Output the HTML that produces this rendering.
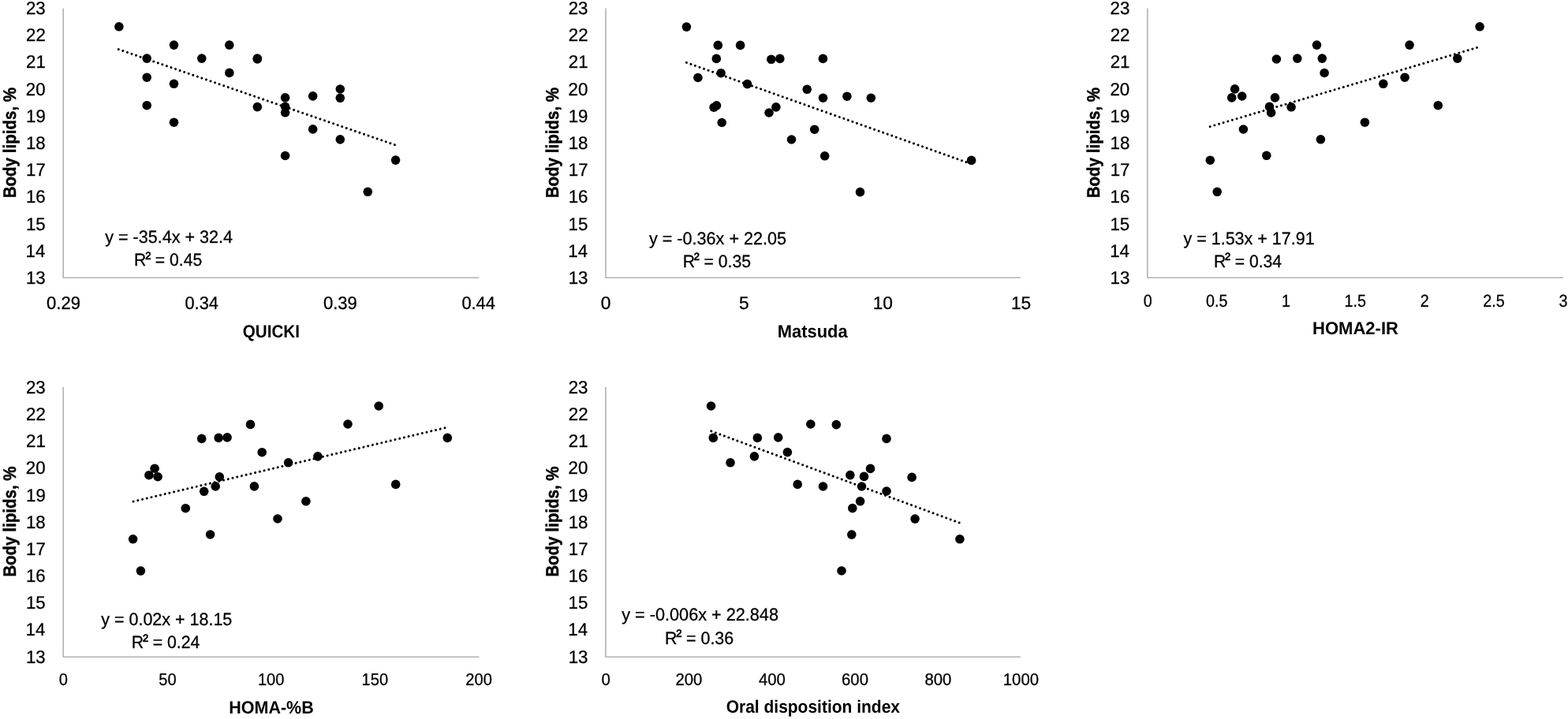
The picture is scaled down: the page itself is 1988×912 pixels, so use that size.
<!DOCTYPE html>
<html lang="en"><head><meta charset="utf-8"><title>Body lipids vs insulin sensitivity indices</title>
<style>
html,body{margin:0;padding:0;background:#fff;}
body{width:1988px;height:912px;overflow:hidden;}
svg{display:block;text-rendering:geometricPrecision;font-family:"Liberation Sans",sans-serif;fill:#000;}
</style></head><body>
<svg width="1988" height="912" viewBox="0 0 1988 912">
<rect width="1988" height="912" fill="#fff"/>
<path d="M80.20 10.50V352.20H607.30" fill="none" stroke="#b2b2b2" stroke-width="1.6" stroke-linejoin="round"/>
<text transform="translate(32.95,359.85) scale(0.9800,1)" font-size="22.70" stroke="#000" stroke-width="0.3">13</text>
<text transform="translate(32.62,325.68) scale(0.9800,1)" font-size="22.70" stroke="#000" stroke-width="0.3">14</text>
<text transform="translate(32.90,291.51) scale(0.9800,1)" font-size="22.70" stroke="#000" stroke-width="0.3">15</text>
<text transform="translate(32.95,257.34) scale(0.9800,1)" font-size="22.70" stroke="#000" stroke-width="0.3">16</text>
<text transform="translate(33.12,223.17) scale(0.9800,1)" font-size="22.70" stroke="#000" stroke-width="0.3">17</text>
<text transform="translate(32.95,189.00) scale(0.9800,1)" font-size="22.70" stroke="#000" stroke-width="0.3">18</text>
<text transform="translate(33.01,154.83) scale(0.9800,1)" font-size="22.70" stroke="#000" stroke-width="0.3">19</text>
<text transform="translate(32.84,120.66) scale(0.9800,1)" font-size="22.70" stroke="#000" stroke-width="0.3">20</text>
<text transform="translate(33.06,86.49) scale(0.9800,1)" font-size="22.70" stroke="#000" stroke-width="0.3">21</text>
<text transform="translate(33.12,52.32) scale(0.9800,1)" font-size="22.70" stroke="#000" stroke-width="0.3">22</text>
<text transform="translate(32.95,18.15) scale(0.9800,1)" font-size="22.70" stroke="#000" stroke-width="0.3">23</text>
<text transform="translate(19.80,251.34) rotate(-90) scale(0.9099,1)" font-size="22.60" font-weight="bold" stroke="#000" stroke-width="0.5">Body lipids, %</text>
<path d="M150.3 62.6L501.4 184.0" fill="none" stroke="#000" stroke-width="3.0" stroke-linecap="round" stroke-dasharray="0.01 5.87"/>
<g fill="#000"><circle cx="150.9" cy="33.8" r="5.8"/><circle cx="220.5" cy="57.1" r="5.8"/><circle cx="290.8" cy="57.1" r="5.8"/><circle cx="186.2" cy="74.1" r="5.8"/><circle cx="255.8" cy="74.1" r="5.8"/><circle cx="326.3" cy="74.1" r="5.8"/><circle cx="326.3" cy="75.0" r="5.8"/><circle cx="186.2" cy="98.2" r="5.8"/><circle cx="290.8" cy="92.4" r="5.8"/><circle cx="220.5" cy="106.3" r="5.8"/><circle cx="186.2" cy="133.7" r="5.8"/><circle cx="326.3" cy="135.6" r="5.8"/><circle cx="220.5" cy="155.2" r="5.8"/><circle cx="361.6" cy="123.9" r="5.8"/><circle cx="361.6" cy="135.3" r="5.8"/><circle cx="361.6" cy="142.8" r="5.8"/><circle cx="361.6" cy="197.5" r="5.8"/><circle cx="396.7" cy="121.9" r="5.8"/><circle cx="396.7" cy="163.9" r="5.8"/><circle cx="431.3" cy="113.0" r="5.8"/><circle cx="431.3" cy="124.3" r="5.8"/><circle cx="431.3" cy="176.9" r="5.8"/><circle cx="466.3" cy="243.3" r="5.8"/><circle cx="501.6" cy="203.1" r="5.8"/></g>
<text transform="translate(59.02,391.85) scale(0.9711,1)" font-size="22.70" stroke="#000" stroke-width="0.3">0.29</text>
<text transform="translate(234.48,391.85) scale(0.9620,1)" font-size="22.70" stroke="#000" stroke-width="0.3">0.34</text>
<text transform="translate(409.92,391.85) scale(0.9711,1)" font-size="22.70" stroke="#000" stroke-width="0.3">0.39</text>
<text transform="translate(585.38,391.85) scale(0.9620,1)" font-size="22.70" stroke="#000" stroke-width="0.3">0.44</text>
<text transform="translate(307.73,427.65) scale(0.9123,1)" font-size="22.60" font-weight="bold" stroke="#000" stroke-width="0.0">QUICKI</text>
<text transform="translate(133.25,308.30) scale(0.9714,1)" font-size="22.20" stroke="#000" stroke-width="0.3">y = -35.4x + 32.4</text>
<text transform="translate(170.05,337.30) scale(0.9530,1)" font-size="22.20" stroke="#000" stroke-width="0.3">R<tspan dx="-1.2" dy="-2.8" stroke-width="0.5">²</tspan><tspan dx="-0.3" dy="2.8"> = 0.45</tspan></text>
<path d="M767.90 10.50V352.20H1293.80" fill="none" stroke="#b2b2b2" stroke-width="1.6" stroke-linejoin="round"/>
<text transform="translate(720.65,359.85) scale(0.9800,1)" font-size="22.70" stroke="#000" stroke-width="0.3">13</text>
<text transform="translate(720.32,325.68) scale(0.9800,1)" font-size="22.70" stroke="#000" stroke-width="0.3">14</text>
<text transform="translate(720.60,291.51) scale(0.9800,1)" font-size="22.70" stroke="#000" stroke-width="0.3">15</text>
<text transform="translate(720.65,257.34) scale(0.9800,1)" font-size="22.70" stroke="#000" stroke-width="0.3">16</text>
<text transform="translate(720.82,223.17) scale(0.9800,1)" font-size="22.70" stroke="#000" stroke-width="0.3">17</text>
<text transform="translate(720.65,189.00) scale(0.9800,1)" font-size="22.70" stroke="#000" stroke-width="0.3">18</text>
<text transform="translate(720.71,154.83) scale(0.9800,1)" font-size="22.70" stroke="#000" stroke-width="0.3">19</text>
<text transform="translate(720.54,120.66) scale(0.9800,1)" font-size="22.70" stroke="#000" stroke-width="0.3">20</text>
<text transform="translate(720.76,86.49) scale(0.9800,1)" font-size="22.70" stroke="#000" stroke-width="0.3">21</text>
<text transform="translate(720.82,52.32) scale(0.9800,1)" font-size="22.70" stroke="#000" stroke-width="0.3">22</text>
<text transform="translate(720.65,18.15) scale(0.9800,1)" font-size="22.70" stroke="#000" stroke-width="0.3">23</text>
<text transform="translate(707.50,251.34) rotate(-90) scale(0.9099,1)" font-size="22.60" font-weight="bold" stroke="#000" stroke-width="0.5">Body lipids, %</text>
<path d="M870.4 79.4L1230.4 207.6" fill="none" stroke="#000" stroke-width="3.0" stroke-linecap="round" stroke-dasharray="0.01 5.87"/>
<g fill="#000"><circle cx="870.4" cy="34.1" r="5.8"/><circle cx="910.3" cy="57.4" r="5.8"/><circle cx="938.6" cy="57.4" r="5.8"/><circle cx="908.3" cy="74.4" r="5.8"/><circle cx="977.8" cy="75.3" r="5.8"/><circle cx="988.8" cy="74.4" r="5.8"/><circle cx="1043.4" cy="74.4" r="5.8"/><circle cx="914.1" cy="92.7" r="5.8"/><circle cx="884.9" cy="98.5" r="5.8"/><circle cx="947.5" cy="106.6" r="5.8"/><circle cx="1023.2" cy="113.3" r="5.8"/><circle cx="1043.5" cy="124.2" r="5.8"/><circle cx="1073.9" cy="122.2" r="5.8"/><circle cx="908.5" cy="133.8" r="5.8"/><circle cx="905.1" cy="136.2" r="5.8"/><circle cx="983.9" cy="135.9" r="5.8"/><circle cx="975.0" cy="143.0" r="5.8"/><circle cx="915.2" cy="155.5" r="5.8"/><circle cx="1032.7" cy="164.2" r="5.8"/><circle cx="1003.5" cy="177.0" r="5.8"/><circle cx="1104.3" cy="124.2" r="5.8"/><circle cx="1045.7" cy="197.8" r="5.8"/><circle cx="1090.5" cy="243.6" r="5.8"/><circle cx="1231.6" cy="203.4" r="5.8"/></g>
<text transform="translate(761.67,391.85) scale(1.0000,1)" font-size="22.70" stroke="#000" stroke-width="0.3">0</text>
<text transform="translate(937.10,391.85) scale(1.0000,1)" font-size="22.70" stroke="#000" stroke-width="0.3">5</text>
<text transform="translate(1106.63,391.85) scale(1.0000,1)" font-size="22.70" stroke="#000" stroke-width="0.3">10</text>
<text transform="translate(1282.00,391.85) scale(1.0000,1)" font-size="22.70" stroke="#000" stroke-width="0.3">15</text>
<text transform="translate(985.77,427.80) scale(0.9702,1)" font-size="22.60" font-weight="bold" stroke="#000" stroke-width="0.0">Matsuda</text>
<text transform="translate(822.95,309.70) scale(0.9737,1)" font-size="22.20" stroke="#000" stroke-width="0.3">y = -0.36x + 22.05</text>
<text transform="translate(865.65,339.00) scale(0.9564,1)" font-size="22.20" stroke="#000" stroke-width="0.3">R<tspan dx="-1.2" dy="-2.8" stroke-width="0.5">²</tspan><tspan dx="-0.3" dy="2.8"> = 0.35</tspan></text>
<path d="M1454.80 10.50V352.20H1981.70" fill="none" stroke="#b2b2b2" stroke-width="1.6" stroke-linejoin="round"/>
<text transform="translate(1407.55,359.85) scale(0.9800,1)" font-size="22.70" stroke="#000" stroke-width="0.3">13</text>
<text transform="translate(1407.22,325.68) scale(0.9800,1)" font-size="22.70" stroke="#000" stroke-width="0.3">14</text>
<text transform="translate(1407.50,291.51) scale(0.9800,1)" font-size="22.70" stroke="#000" stroke-width="0.3">15</text>
<text transform="translate(1407.55,257.34) scale(0.9800,1)" font-size="22.70" stroke="#000" stroke-width="0.3">16</text>
<text transform="translate(1407.72,223.17) scale(0.9800,1)" font-size="22.70" stroke="#000" stroke-width="0.3">17</text>
<text transform="translate(1407.55,189.00) scale(0.9800,1)" font-size="22.70" stroke="#000" stroke-width="0.3">18</text>
<text transform="translate(1407.61,154.83) scale(0.9800,1)" font-size="22.70" stroke="#000" stroke-width="0.3">19</text>
<text transform="translate(1407.44,120.66) scale(0.9800,1)" font-size="22.70" stroke="#000" stroke-width="0.3">20</text>
<text transform="translate(1407.66,86.49) scale(0.9800,1)" font-size="22.70" stroke="#000" stroke-width="0.3">21</text>
<text transform="translate(1407.72,52.32) scale(0.9800,1)" font-size="22.70" stroke="#000" stroke-width="0.3">22</text>
<text transform="translate(1407.55,18.15) scale(0.9800,1)" font-size="22.70" stroke="#000" stroke-width="0.3">23</text>
<text transform="translate(1394.40,251.34) rotate(-90) scale(0.9099,1)" font-size="22.60" font-weight="bold" stroke="#000" stroke-width="0.5">Body lipids, %</text>
<path d="M1534.2 160.6L1872.6 60.4" fill="none" stroke="#000" stroke-width="3.0" stroke-linecap="round" stroke-dasharray="0.01 5.87"/>
<g fill="#000"><circle cx="1669.5" cy="57.1" r="5.8"/><circle cx="1618.4" cy="75.0" r="5.8"/><circle cx="1644.8" cy="74.1" r="5.8"/><circle cx="1676.3" cy="74.1" r="5.8"/><circle cx="1679.1" cy="92.5" r="5.8"/><circle cx="1565.6" cy="112.9" r="5.8"/><circle cx="1561.7" cy="123.9" r="5.8"/><circle cx="1574.7" cy="122.0" r="5.8"/><circle cx="1616.5" cy="123.9" r="5.8"/><circle cx="1609.5" cy="135.4" r="5.8"/><circle cx="1637.1" cy="135.8" r="5.8"/><circle cx="1611.6" cy="142.9" r="5.8"/><circle cx="1576.4" cy="164.0" r="5.8"/><circle cx="1730.4" cy="155.2" r="5.8"/><circle cx="1674.4" cy="176.8" r="5.8"/><circle cx="1876.1" cy="33.8" r="5.8"/><circle cx="1787.1" cy="57.1" r="5.8"/><circle cx="1847.8" cy="74.1" r="5.8"/><circle cx="1781.1" cy="98.2" r="5.8"/><circle cx="1753.8" cy="106.3" r="5.8"/><circle cx="1823.3" cy="133.7" r="5.8"/><circle cx="1534.3" cy="203.2" r="5.8"/><circle cx="1605.8" cy="197.3" r="5.8"/><circle cx="1543.2" cy="243.3" r="5.8"/></g>
<text transform="translate(1449.71,388.80) scale(0.9000,1)" font-size="21.90" stroke="#000" stroke-width="0.3">0</text>
<text transform="translate(1529.10,388.80) scale(0.9000,1)" font-size="21.90" stroke="#000" stroke-width="0.3">0.5</text>
<text transform="translate(1624.96,388.80) scale(0.9000,1)" font-size="21.90" stroke="#000" stroke-width="0.3">1</text>
<text transform="translate(1704.46,388.80) scale(0.9000,1)" font-size="21.90" stroke="#000" stroke-width="0.3">1.5</text>
<text transform="translate(1800.83,388.80) scale(0.9000,1)" font-size="21.90" stroke="#000" stroke-width="0.3">2</text>
<text transform="translate(1880.30,388.80) scale(0.9000,1)" font-size="21.90" stroke="#000" stroke-width="0.3">2.5</text>
<text transform="translate(1976.58,388.80) scale(0.9000,1)" font-size="21.90" stroke="#000" stroke-width="0.3">3</text>
<text transform="translate(1663.96,424.00) scale(0.9761,1)" font-size="22.60" font-weight="bold" stroke="#000" stroke-width="0.0">HOMA2-IR</text>
<text transform="translate(1500.45,309.70) scale(0.9693,1)" font-size="22.20" stroke="#000" stroke-width="0.3">y = 1.53x + 17.91</text>
<text transform="translate(1538.95,339.00) scale(0.9534,1)" font-size="22.20" stroke="#000" stroke-width="0.3">R<tspan dx="-1.2" dy="-2.8" stroke-width="0.5">²</tspan><tspan dx="-0.3" dy="2.8"> = 0.34</tspan></text>
<path d="M80.20 491.00V833.20H607.50" fill="none" stroke="#b2b2b2" stroke-width="1.6" stroke-linejoin="round"/>
<text transform="translate(32.95,840.65) scale(0.9800,1)" font-size="22.70" stroke="#000" stroke-width="0.3">13</text>
<text transform="translate(32.62,806.48) scale(0.9800,1)" font-size="22.70" stroke="#000" stroke-width="0.3">14</text>
<text transform="translate(32.90,772.31) scale(0.9800,1)" font-size="22.70" stroke="#000" stroke-width="0.3">15</text>
<text transform="translate(32.95,738.14) scale(0.9800,1)" font-size="22.70" stroke="#000" stroke-width="0.3">16</text>
<text transform="translate(33.12,703.97) scale(0.9800,1)" font-size="22.70" stroke="#000" stroke-width="0.3">17</text>
<text transform="translate(32.95,669.80) scale(0.9800,1)" font-size="22.70" stroke="#000" stroke-width="0.3">18</text>
<text transform="translate(33.01,635.63) scale(0.9800,1)" font-size="22.70" stroke="#000" stroke-width="0.3">19</text>
<text transform="translate(32.84,601.46) scale(0.9800,1)" font-size="22.70" stroke="#000" stroke-width="0.3">20</text>
<text transform="translate(33.06,567.29) scale(0.9800,1)" font-size="22.70" stroke="#000" stroke-width="0.3">21</text>
<text transform="translate(33.12,533.12) scale(0.9800,1)" font-size="22.70" stroke="#000" stroke-width="0.3">22</text>
<text transform="translate(32.95,498.95) scale(0.9800,1)" font-size="22.70" stroke="#000" stroke-width="0.3">23</text>
<text transform="translate(19.80,731.84) rotate(-90) scale(0.9099,1)" font-size="22.60" font-weight="bold" stroke="#000" stroke-width="0.5">Body lipids, %</text>
<path d="M169.1 636.1L564.6 542.6" fill="none" stroke="#000" stroke-width="3.0" stroke-linecap="round" stroke-dasharray="0.01 5.87"/>
<g fill="#000"><circle cx="317.5" cy="538.4" r="5.8"/><circle cx="255.7" cy="556.4" r="5.8"/><circle cx="277.2" cy="555.4" r="5.8"/><circle cx="288.1" cy="554.9" r="5.8"/><circle cx="332.2" cy="573.7" r="5.8"/><circle cx="365.6" cy="586.8" r="5.8"/><circle cx="196.1" cy="594.2" r="5.8"/><circle cx="188.9" cy="602.7" r="5.8"/><circle cx="200.1" cy="604.7" r="5.8"/><circle cx="278.3" cy="604.9" r="5.8"/><circle cx="273.2" cy="616.9" r="5.8"/><circle cx="322.4" cy="616.9" r="5.8"/><circle cx="258.7" cy="623.3" r="5.8"/><circle cx="235.3" cy="644.7" r="5.8"/><circle cx="387.9" cy="635.8" r="5.8"/><circle cx="352.0" cy="658.0" r="5.8"/><circle cx="480.2" cy="515.0" r="5.8"/><circle cx="441.0" cy="538.0" r="5.8"/><circle cx="567.3" cy="555.4" r="5.8"/><circle cx="402.9" cy="578.9" r="5.8"/><circle cx="501.7" cy="614.4" r="5.8"/><circle cx="168.6" cy="683.8" r="5.8"/><circle cx="266.6" cy="678.0" r="5.8"/><circle cx="178.4" cy="724.1" r="5.8"/></g>
<text transform="translate(74.81,868.60) scale(0.9420,1)" font-size="21.30" stroke="#000" stroke-width="0.3">0</text>
<text transform="translate(201.24,868.60) scale(0.9420,1)" font-size="21.30" stroke="#000" stroke-width="0.3">50</text>
<text transform="translate(326.89,868.60) scale(0.9420,1)" font-size="21.30" stroke="#000" stroke-width="0.3">100</text>
<text transform="translate(458.59,868.60) scale(0.9420,1)" font-size="21.30" stroke="#000" stroke-width="0.3">150</text>
<text transform="translate(590.35,868.60) scale(0.9420,1)" font-size="21.30" stroke="#000" stroke-width="0.3">200</text>
<text transform="translate(290.20,904.90) scale(0.9524,1)" font-size="22.60" font-weight="bold" stroke="#000" stroke-width="0.0">HOMA-%B</text>
<text transform="translate(128.25,792.80) scale(0.9683,1)" font-size="22.20" stroke="#000" stroke-width="0.3">y = 0.02x + 18.15</text>
<text transform="translate(166.74,822.40) scale(0.9590,1)" font-size="22.20" stroke="#000" stroke-width="0.3">R<tspan dx="-1.2" dy="-2.8" stroke-width="0.5">²</tspan><tspan dx="-0.3" dy="2.8"> = 0.24</tspan></text>
<path d="M767.90 491.00V833.20H1293.90" fill="none" stroke="#b2b2b2" stroke-width="1.6" stroke-linejoin="round"/>
<text transform="translate(720.65,840.65) scale(0.9800,1)" font-size="22.70" stroke="#000" stroke-width="0.3">13</text>
<text transform="translate(720.32,806.48) scale(0.9800,1)" font-size="22.70" stroke="#000" stroke-width="0.3">14</text>
<text transform="translate(720.60,772.31) scale(0.9800,1)" font-size="22.70" stroke="#000" stroke-width="0.3">15</text>
<text transform="translate(720.65,738.14) scale(0.9800,1)" font-size="22.70" stroke="#000" stroke-width="0.3">16</text>
<text transform="translate(720.82,703.97) scale(0.9800,1)" font-size="22.70" stroke="#000" stroke-width="0.3">17</text>
<text transform="translate(720.65,669.80) scale(0.9800,1)" font-size="22.70" stroke="#000" stroke-width="0.3">18</text>
<text transform="translate(720.71,635.63) scale(0.9800,1)" font-size="22.70" stroke="#000" stroke-width="0.3">19</text>
<text transform="translate(720.54,601.46) scale(0.9800,1)" font-size="22.70" stroke="#000" stroke-width="0.3">20</text>
<text transform="translate(720.76,567.29) scale(0.9800,1)" font-size="22.70" stroke="#000" stroke-width="0.3">21</text>
<text transform="translate(720.82,533.12) scale(0.9800,1)" font-size="22.70" stroke="#000" stroke-width="0.3">22</text>
<text transform="translate(720.65,498.95) scale(0.9800,1)" font-size="22.70" stroke="#000" stroke-width="0.3">23</text>
<text transform="translate(707.50,731.84) rotate(-90) scale(0.9099,1)" font-size="22.60" font-weight="bold" stroke="#000" stroke-width="0.5">Body lipids, %</text>
<path d="M901.8 546.9L1216.6 663.2" fill="none" stroke="#000" stroke-width="3.0" stroke-linecap="round" stroke-dasharray="0.01 5.87"/>
<g fill="#000"><circle cx="901.5" cy="515.0" r="5.8"/><circle cx="1027.8" cy="538.0" r="5.8"/><circle cx="1060.3" cy="538.6" r="5.8"/><circle cx="904.3" cy="555.4" r="5.8"/><circle cx="960.3" cy="555.4" r="5.8"/><circle cx="986.7" cy="554.9" r="5.8"/><circle cx="1124.0" cy="556.4" r="5.8"/><circle cx="998.4" cy="573.6" r="5.8"/><circle cx="956.4" cy="578.9" r="5.8"/><circle cx="926.0" cy="586.8" r="5.8"/><circle cx="1103.5" cy="594.4" r="5.8"/><circle cx="1077.9" cy="602.6" r="5.8"/><circle cx="1095.5" cy="604.4" r="5.8"/><circle cx="1156.1" cy="605.4" r="5.8"/><circle cx="1011.2" cy="614.4" r="5.8"/><circle cx="1043.5" cy="617.0" r="5.8"/><circle cx="1092.5" cy="617.0" r="5.8"/><circle cx="1124.0" cy="623.0" r="5.8"/><circle cx="1090.6" cy="635.8" r="5.8"/><circle cx="1080.8" cy="644.6" r="5.8"/><circle cx="1160.1" cy="658.1" r="5.8"/><circle cx="1079.8" cy="678.1" r="5.8"/><circle cx="1216.9" cy="683.8" r="5.8"/><circle cx="1067.0" cy="724.0" r="5.8"/></g>
<text transform="translate(762.53,868.60) scale(0.9550,1)" font-size="21.30" stroke="#000" stroke-width="0.3">0</text>
<text transform="translate(856.41,868.60) scale(0.9550,1)" font-size="21.30" stroke="#000" stroke-width="0.3">200</text>
<text transform="translate(961.99,868.60) scale(0.9550,1)" font-size="21.30" stroke="#000" stroke-width="0.3">400</text>
<text transform="translate(1067.01,868.60) scale(0.9550,1)" font-size="21.30" stroke="#000" stroke-width="0.3">600</text>
<text transform="translate(1172.39,868.60) scale(0.9550,1)" font-size="21.30" stroke="#000" stroke-width="0.3">800</text>
<text transform="translate(1271.81,868.60) scale(0.9550,1)" font-size="21.30" stroke="#000" stroke-width="0.3">1000</text>
<text transform="translate(920.71,904.10) scale(0.9283,1)" font-size="22.60" font-weight="bold" stroke="#000" stroke-width="0.0">Oral disposition index</text>
<text transform="translate(788.25,787.40) scale(0.9762,1)" font-size="22.20" stroke="#000" stroke-width="0.3">y = -0.006x + 22.848</text>
<text transform="translate(843.03,816.70) scale(0.9637,1)" font-size="22.20" stroke="#000" stroke-width="0.3">R<tspan dx="-1.2" dy="-2.8" stroke-width="0.5">²</tspan><tspan dx="-0.3" dy="2.8"> = 0.36</tspan></text>
</svg>
</body></html>
